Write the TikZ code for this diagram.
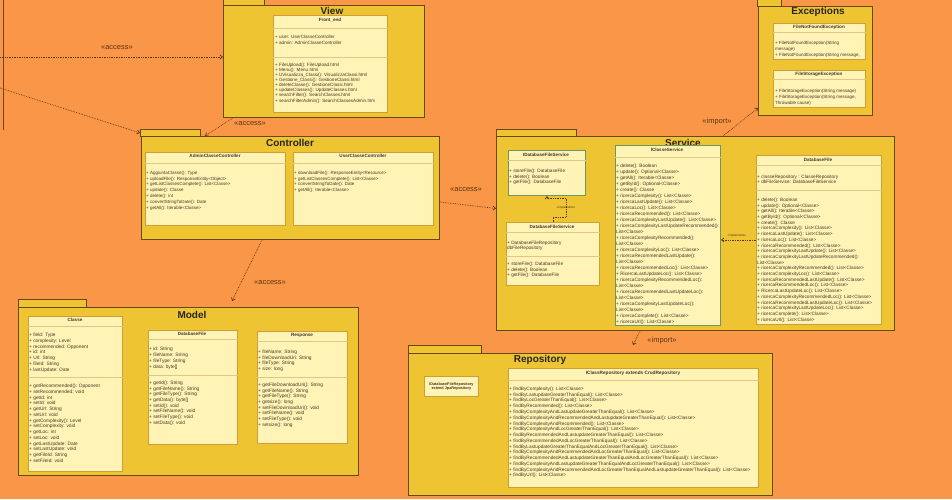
\documentclass[tikz,border=0pt]{standalone}
\usepackage{fontspec}
\setmainfont{Liberation Sans}
\usetikzlibrary{arrows.meta}
\definecolor{bg}{RGB}{250,150,72}
\definecolor{pkgfill}{RGB}{238,196,50}
\definecolor{pkgline}{RGB}{105,72,20}
\definecolor{clsfill}{RGB}{255,243,182}
\definecolor{clsline}{RGB}{205,160,55}
\definecolor{ifline}{RGB}{110,150,100}
\definecolor{txt}{RGB}{70,55,40}
\definecolor{depc}{RGB}{90,55,20}
\tikzset{
 pkg/.style={draw=pkgline, fill=pkgfill, line width=0.9pt, anchor=north west, inner sep=0pt},
 cls/.style={draw=clsline, fill=clsfill, line width=0.8pt, anchor=north west, inner sep=0pt},
 iface/.style={cls, draw=ifline, line width=1pt},
 ptitle/.style={font=\fontsize{10}{12}\selectfont\bfseries, text=black!85, inner sep=0pt},
 chead/.style={font=\fontsize{4.6}{5.5}\selectfont\bfseries, text=txt, inner sep=0pt},
 mem/.style n args={2}{font=\fontsize{#1}{#2}\selectfont, text=txt, align=left, anchor=north west, inner sep=0pt},
 sepline/.style={draw=clsline!60, line width=0.3pt},
 depline/.style={draw=depc, densely dotted, line width=0.7pt, -{Straight Barb[length=2.5pt,width=4pt]}},
 deplbl/.style={font=\fontsize{7.5}{8}\selectfont, text=depc, inner sep=0pt},
 impllbl/.style={font=\fontsize{3}{3.5}\selectfont, text=txt, inner sep=0pt},
}
\newcommand{\csep}[2]{\draw[sepline] (#1.west |- 0,#2) -- (#1.east |- 0,#2);}
\begin{document}
\begin{tikzpicture}[x=1pt,y=-1pt]
\fill[bg] (0,0) rectangle (952,499);
\useasboundingbox (0,0) rectangle (952,499);
% cut-off package edge at left
\draw[pkgline, line width=0.9pt] (3,-1) -- (3,130);

% ===== View =====
\node[pkg, minimum width=41pt, minimum height=8pt] (viewtab) at (223,-3) {};
\node[pkg, minimum width=201pt, minimum height=112pt] (view) at (223,5) {};
\node[ptitle] (viewt) at (332,11) {View};
\node[cls, minimum width=114pt, minimum height=97pt] (fe) at (273,15) {};
\node[chead] (feh) at (330,20) {Front\_end};
\csep{fe}{28}
\node[mem={4.6}{6}] (fea) at (275,34.8) {+ user: UserClasseController\\+ admin: AdminClasseController};
\csep{fe}{57}
\node[mem={4.6}{5.1}] (fem) at (275,62.8) {+ FileUpload(): FileUpload.html\\+ Menu(): Menu.html\\+ UVisualizza\_Classi(): VisualizzaClassi.html\\+ Gestione\_Classi(): GestioneClassi.html\\+ deleteClasse(): GestioneClassi.html\\+ updateClasses(): UpdateClasses.html\\+ searchFilter(): SearchClasses.html\\+ searchFilterAdmin(): SearchClassesAdmin.htm};

% ===== Exceptions =====
\node[pkg, minimum width=24pt, minimum height=9pt] (exctab) at (757,-3) {};
\node[pkg, minimum width=114pt, minimum height=109pt] (exc) at (758,6) {};
\node[ptitle] (exct) at (818,12) {Exceptions};
\node[cls, minimum width=92pt, minimum height=36pt] (fnf) at (773,23) {};
\node[chead] (fnfh) at (819,27) {FileNotFoundException};
\csep{fnf}{32}
\node[mem={4.5}{6}] (fnfm) at (775,40.8) {+ FileNotFoundException(String\\message)\\+ FileNotFoundException(String message,};
\node[cls, minimum width=92pt, minimum height=37pt] (fse) at (773,70) {};
\node[chead] (fseh) at (819,74) {FileStorageException};
\csep{fse}{79}
\node[mem={4.5}{6}] (fsem) at (775,88.8) {+ FileStorageException(String message)\\+ FileStorageException(String message,\\Throwable cause)};

% ===== Controller =====
\node[pkg, minimum width=60pt, minimum height=7pt] (ctrltab) at (140,129) {};
\node[pkg, minimum width=298pt, minimum height=103pt] (ctrl) at (141,136) {};
\node[ptitle] (ctrlt) at (290,143) {Controller};
\node[cls, minimum width=140pt, minimum height=73pt] (acc) at (145,152) {};
\node[chead] (acch) at (215,155.5) {AdminClasseController};
\csep{acc}{163}
\node[mem={4.5}{5.8}] (accm) at (146,170.8) {+ AggiuntaClasse(): Type\\+ uploadFile(): ResponseEntity<Object>\\+ getListClassesComplete(): List<Classe>\\+ update(): Classe\\+ delete(): int\\+ convertStringToDate(): Date\\+ getAll(): Iterable<Classe>};
\node[cls, minimum width=140pt, minimum height=73pt] (ucc) at (293,152) {};
\node[chead] (ucch) at (363,155.5) {UserClasseController};
\csep{ucc}{163}
\node[mem={4.5}{5.8}] (uccm) at (294,170.8) {+ downloadFile(): ResponseEntity<Resource>\\+ getListClassesComplete(): List<Classe>\\+ convertStringToDate(): Date\\+ getAll(): Iterable<Classe>};

% ===== Service =====
\node[pkg, minimum width=80pt, minimum height=7pt] (svctab) at (496,129) {};
\node[pkg, minimum width=398pt, minimum height=194pt] (svc) at (496,136) {};
\node[ptitle] (svct) at (683,142.5) {Service};
\node[iface, minimum width=77pt, minimum height=45pt] (idfs) at (508,150) {};
\node[chead] (idfsh) at (546,154.5) {IDatabaseFileService};
\csep{idfs}{160}
\node[mem={4.7}{5.6}] (idfsm) at (509,168.8) {+ storeFile(): DatabaseFile\\+ delete(): Boolean\\+ getFile(): DatabaseFile};
\node[cls, minimum width=93pt, minimum height=63pt] (dfs) at (506,222) {};
\node[chead] (dfsh) at (552,226.5) {DatabaseFileService};
\csep{dfs}{232}
\node[mem={4.7}{5.3}] (dfsa) at (507,240.8) {+ DatabaseFileRepository\\dbFileRepository};
\csep{dfs}{256}
\node[mem={4.7}{5.6}] (dfsm) at (507,261.8) {+ storeFile(): DatabaseFile\\+ delete(): Boolean\\+ getFile(): DatabaseFile};
\node[iface, minimum width=105pt, minimum height=180pt] (ics) at (615,145) {};
\node[chead] (icsh) at (667,150) {IClasseService};
\csep{ics}{157}
\node[mem={4.75}{6}] (icsm) at (616,163.8) {+ delete(): Boolean\\+ update(): Optional<Classe>\\+ getAll(): Iterable<Classe>\\+ getById(): Optional<Classe>\\+ create(): Classe\\+ ricercaComplexity(): List<Classe>\\+ ricercaLastUpdate(): List<Classe>\\+ ricercaLoc(): List<Classe>\\+ ricercaRecommended(): List<Classe>\\+ ricercaComplexityLastUpdate(): List<Classe>\\+ ricercaComplexityLastUpdateRecommended():\\List<Classe>\\+ ricercaComplexityRecommended():\\List<Classe>\\+ ricercaComplexityLoc(): List<Classe>\\+ ricercaRecommendedLastUpdate():\\List<Classe>\\+ ricercaRecommendedLoc(): List<Classe>\\+ RicercaLastUpdateLoc(): List<Classe>\\+ ricercaComplexityRecommendedLoc():\\List<Classe>\\+ ricercaRecommendedLastUpdateLoc():\\List<Classe>\\+ ricercaComplexityLastUpdateLoc():\\List<Classe>\\+ ricercaComplete(): List<Classe>\\+ ricercaUrl(): List<Classe>};
\node[cls, minimum width=125pt, minimum height=169pt] (dbf) at (756,155) {};
\node[chead] (dbfh) at (818,159.5) {DatabaseFile};
\csep{dbf}{165}
\node[mem={4.7}{5.3}] (dbfa) at (757,174.8) {+ classeRepository : ClasseRepository\\+ dbFileService: DatabaseFileService};
\csep{dbf}{190}
\node[mem={4.7}{5.7}] (dbfm) at (757,197.8) {+ delete(): Boolean\\+ update(): Optional<Classe>\\+ getAll(): Iterable<Classe>\\+ getById(): Optional<Classe>\\+ create(): Classe\\+ ricercaComplexity(): List<Classe>\\+ ricercaLastUpdate(): List<Classe>\\+ ricercaLoc(): List<Classe>\\+ ricercaRecommended(): List<Classe>\\+ ricercaComplexityLastUpdate(): List<Classe>\\+ ricercaComplexityLastUpdateRecommended():\\List<Classe>\\+ ricercaComplexityRecommended(): List<Classe>\\+ ricercaComplexityLoc(): List<Classe>\\+ ricercaRecommendedLastUpdate(): List<Classe>\\+ ricercaRecommendedLoc(): List<Classe>\\+ RicercaLastUpdateLoc(): List<Classe>\\+ ricercaComplexityRecommendedLoc(): List<Classe>\\+ ricercaRecommendedLastUpdateLoc(): List<Classe>\\+ ricercaComplexityLastUpdateLoc(): List<Classe>\\+ ricercaComplete(): List<Classe>\\+ ricercaUrl(): List<Classe>};
% implements
\draw[depline] (dfs.north) |- (566,217) -- node[impllbl, pos=0.5] (impl1) {<<implements>>} (566,198) -| (idfs.south);
\draw[depline] (dbf.west) -- (ics.east |- dbf.west);
\node[impllbl] (impl2) at (737,236) {<<implements>>};

% ===== Model =====
\node[pkg, minimum width=68pt, minimum height=8pt] (modeltab) at (18,299) {};
\node[pkg, minimum width=340pt, minimum height=168pt] (model) at (18,307) {};
\node[ptitle] (modelt) at (192,314.5) {Model};
\node[cls, minimum width=94pt, minimum height=155pt] (classe) at (28,316) {};
\node[chead] (classeh) at (75,319.5) {Classe};
\csep{classe}{326}
\node[mem={4.8}{5.8}] (classea) at (29,332.8) {+ field: Type\\+ complexity: Level\\+ recommended: Opponent\\+ id: int\\+ Url: String\\+ fileId: String\\+ lastUpdate: Date};
\csep{classe}{377}
\node[mem={4.8}{5.77}] (classem) at (29,383.8) {+ getRecommended(): Opponent\\+ setRecommended: void\\+ getId: int\\+ setId: void\\+ getUrl: String\\+ setUrl: void\\+ getComplexity(): Level\\+ setComplexity: void\\+ getLoc: int\\+ setLoc: void\\+ getLastUpdate: Date\\+ setLastUpdate: void\\+ getFileId: String\\+ setFileId: void};
\node[cls, minimum width=89pt, minimum height=114pt] (mdb) at (148,330) {};
\node[chead] (mdbh) at (192,333.5) {DatabaseFile};
\csep{mdb}{339}
\node[mem={4.8}{6}] (mdba) at (149,346.8) {+ id: String\\+ fileName: String\\+ fileType: String\\+ data: byte[]};
\csep{mdb}{375}
\node[mem={4.8}{5.7}] (mdbm) at (149,380.8) {+ getId(): String\\+ getFileName(): String\\+ getFileType(): String\\+ getData(): byte[]\\+ setId(): void\\+ setFileName(): void\\+ setFileType(): void\\+ setData(): void};
\node[cls, minimum width=90pt, minimum height=112pt] (resp) at (257,331) {};
\node[chead] (resph) at (302,335.5) {Response};
\csep{resp}{341}
\node[mem={4.8}{5.7}] (respa) at (258,349.8) {+ fileName: String\\+ fileDownloadUri: String\\+ fileType: String\\+ size: long};
\csep{resp}{377}
\node[mem={4.8}{5.7}] (respm) at (258,382.8) {+ getFileDownloadUri(): String\\+ getFileName(): String\\+ getFileType(): String\\+ getsize(): long\\+ setFileDownloadUri(): void\\+ setFileName(): void\\+ setFileType(): void\\+ setsize(): long};

% ===== Repository =====
\node[pkg, minimum width=73pt, minimum height=8pt] (repotab) at (408,345) {};
\node[pkg, minimum width=364pt, minimum height=142pt] (repo) at (408,353) {};
\node[ptitle] (repot) at (540,359.5) {Repository};
\node[cls, minimum width=54pt, minimum height=20pt] (idfr) at (424,376) {};
\node[font=\fontsize{3.8}{4.4}\selectfont\bfseries, text=txt, align=center, inner sep=0pt] (idfrt) at (idfr.center) {IDatabaseFileRepository\\extend JpaRepository};
\node[cls, minimum width=250pt, minimum height=119pt] (icr) at (508,368) {};
\node[chead, font=\fontsize{4.7}{5.5}\selectfont\bfseries] (icrh) at (633,373.5) {IClassRepository extends CrudRepository};
\csep{icr}{380}
\node[mem={4.75}{5.76}] (icrm) at (509,386.8) {+ findByComplexity(): List<Classe>\\+ findByLastupdateGreaterThanEqual(): List<Classe>\\+ findByLocGreaterThanEqual(): List<Classe>\\+ findByRecommended(): List<Classe>\\+ findByComplexityAndLastupdateGreaterThanEqual(): List<Classe>\\+ findByComplexityAndRecommendedAndLastupdateGreaterThanEqual(): List<Classe>\\+ findByComplexityAndRecommended(): List<Classe>\\+ findByComplexityAndLocGreaterThanEqual(): List<Classe>\\+ findByRecommendedAndLastupdateGreaterThanEqual(): List<Classe>\\+ findByRecommendedAndLocGreaterThanEqual(): List<Classe>\\+ findByLastupdateGreaterThanEqualAndLocGreaterThanEqual(): List<Classe>\\+ findByComplexityAndRecommendedAndLocGreaterThanEqual(): List<Classe>\\+ findByRecommendedAndLastupdateGreaterThanEqualAndLocGreaterThanEqual(): List<Classe>\\+ findByComplexityAndLastupdateGreaterThanEqualAndLocGreaterThanEqual(): List<Classe>\\+ findByComplexityAndRecommendedAndLocGreaterThanEqualAndLastupdateGreaterThanEqual(): List<Classe>\\+ findByUrl(): List<Classe>};

% ===== dependencies =====
\coordinate (lin1) at (0,57);
\coordinate (lin2) at (0,88);
\draw[depline] (lin1) -- (view.west |- lin1);
\node[deplbl] (l1) at (117,48) {<<access>>};
\draw[depline] (lin2) -- (ctrltab.west);
\draw[depline] ([xshift=10pt]view.south west) -- ([xshift=64pt]ctrl.north west);
\node[deplbl] (l2) at (250,124) {<<access>>};
\draw[depline] ([xshift=121pt]ctrl.south west) -- ([xshift=214pt,yshift=6pt]model.north west);
\node[deplbl] (l3) at (270,283) {<<access>>};
\draw[depline] ([yshift=-14pt]ctrl.east) -- ([yshift=25pt]svc.west);
\node[deplbl] (l4) at (466,190) {<<access>>};
\draw[depline] ([xshift=227pt]svc.north west) -- ([yshift=8pt]exc.south west);
\node[deplbl] (l5) at (717,122) {<<import>>};
\draw[depline] ([xshift=144pt]svc.south west) -- ([xshift=225pt,yshift=8pt]repo.north west);
\node[deplbl] (l6) at (662,341) {<<import>>};
\end{tikzpicture}
\end{document}
